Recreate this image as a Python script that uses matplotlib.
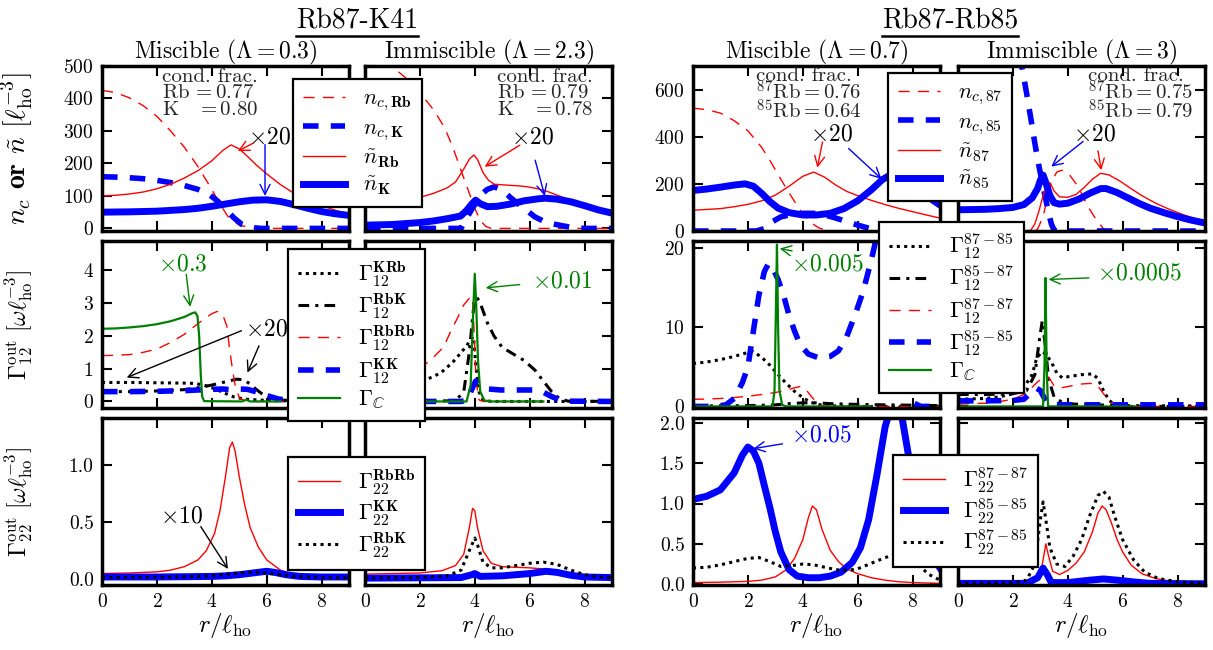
import matplotlib

matplotlib.use("Agg")
import matplotlib.pyplot as plt
from matplotlib.lines import Line2D

plt.rcParams.update({
    "font.family": "serif",
    "font.serif": ["cmr10"],
    "mathtext.fontset": "cm",
    "axes.formatter.use_mathtext": True,
    "axes.unicode_minus": False,
})

# ---------------- data: (r / l_ho, value) ----------------
# Rb87-K41, miscible: densities
mk_nc_rb = [(0, 425), (0.5, 418), (1, 402), (1.5, 378), (2, 345), (2.5, 300), (3, 250), (3.5, 190),
            (4, 120), (4.3, 75), (4.6, 35), (5, 10), (5.5, 1), (6, 0), (9, 0)]
mk_nc_k = [(0, 159), (0.5, 158), (1, 156), (1.5, 153), (2, 148), (2.5, 141), (3, 132), (3.5, 120),
           (3.9, 105), (4.2, 85), (4.5, 60), (4.8, 33), (5.1, 12), (5.4, 3), (5.8, 0), (9, 0)]
mk_nt_rb = [(0, 100), (0.5, 102), (1, 106), (1.5, 112), (2, 122), (2.5, 136), (3, 155), (3.5, 178),
            (4, 208), (4.4, 240), (4.7, 257), (5.0, 245), (5.3, 222), (5.6, 197), (6.0, 168),
            (6.5, 135), (7, 108), (7.5, 87), (8, 70), (8.5, 56), (9, 44)]
mk_nt_k = [(0, 50), (1, 51), (2, 53), (3, 58), (3.5, 62), (4, 68), (4.5, 75), (5, 82), (5.5, 87),
           (6, 88), (6.5, 83), (7, 73), (7.5, 62), (8, 52), (8.5, 45), (9, 40)]

# Rb87-K41, immiscible: densities
ik_nc_rb = [(0, 540), (0.5, 525), (1, 498), (1.5, 462), (2, 418), (2.5, 365), (2.9, 310), (3.2, 250),
            (3.5, 178), (3.75, 120), (4.0, 62), (4.2, 25), (4.4, 6), (4.6, 0), (9, 0)]
ik_nc_k = [(0, 0), (3.5, 0), (3.6, 17), (3.9, 60), (4.22, 103), (4.45, 120), (4.71, 128), (5.0, 118),
           (5.3, 95), (5.56, 77), (5.9, 55), (6.18, 36), (6.6, 18), (7.2, 8), (7.6, 2), (8, 0), (9, 0)]
ik_nt_rb = [(0, 92), (0.5, 93), (1, 94), (1.5, 96), (2.1, 98), (2.5, 108), (3, 125), (3.3, 143),
            (3.6, 183), (3.8, 213), (3.97, 226), (4.1, 212), (4.3, 172), (4.5, 148), (4.71, 136),
            (5.2, 133), (5.6, 131), (5.93, 128), (6.3, 122), (6.67, 113), (7.2, 96), (7.6, 82),
            (8, 70), (8.5, 60), (9, 51)]
ik_nt_k = [(0, 10), (1, 12), (2, 18), (2.5, 23), (3, 30), (3.48, 38), (3.7, 55), (3.9, 76), (4.03, 87),
           (4.2, 76), (4.46, 67), (4.8, 68), (5.3, 75), (5.8, 85), (6.3, 91), (6.55, 93), (7, 90),
           (7.5, 82), (8, 70), (8.5, 57), (9, 47)]

# Rb87-K41, miscible: Gamma_12
mk_g12_krb = [(0, 0.58), (1, 0.58), (2, 0.57), (3, 0.56), (3.4, 0.55), (3.7, 0.5), (4.0, 0.42),
              (4.4, 0.28), (4.8, 0.14), (5.2, 0.07), (6, 0.03), (7, 0.01), (9, 0)]
mk_g12_rbk = [(0, 0.3), (1, 0.3), (2, 0.32), (3, 0.36), (3.5, 0.42), (4, 0.5), (4.5, 0.6), (4.9, 0.68),
              (5.2, 0.66), (5.5, 0.45), (5.8, 0.25), (6.2, 0.1), (6.6, 0.04), (7, 0.02), (9, 0)]
mk_g12_rbrb = [(0, 1.4), (0.5, 1.41), (1, 1.43), (1.5, 1.5), (2, 1.6), (2.5, 1.8), (3, 2.05),
               (3.5, 2.38), (4, 2.68), (4.2, 2.75), (4.4, 2.65), (4.55, 2.3), (4.65, 1.6), (4.75, 1.0),
               (4.85, 0.5), (5.0, 0.12), (5.2, 0.02), (5.5, 0), (9, 0)]
mk_g12_kk = [(0, 0.3), (1, 0.3), (2, 0.31), (3, 0.33), (3.5, 0.35), (4, 0.37), (4.4, 0.38), (4.7, 0.36),
             (5.0, 0.38), (5.3, 0.37), (5.6, 0.3), (6, 0.18), (6.4, 0.08), (6.8, 0.03), (7.2, 0.01), (9, 0)]
mk_g12_c = [(0, 2.22), (0.5, 2.23), (1, 2.26), (1.5, 2.3), (2, 2.36), (2.5, 2.45), (3, 2.58), (3.3, 2.7),
            (3.4, 2.72), (3.48, 2.6), (3.54, 2.0), (3.6, 0.8), (3.65, 0.15), (3.72, 0.01), (5.1, 0.0),
            (5.25, 0.05), (5.4, 0.0), (6.5, 0)]

# Rb87-K41, immiscible: Gamma_12
ik_g12_krb = [(0, 0.2), (1, 0.35), (2, 0.6), (2.5, 0.76), (2.8, 0.9), (3.2, 1.2), (3.48, 1.47), (3.7, 1.7),
              (3.85, 1.88), (3.95, 1.98), (4.05, 1.0), (4.15, 0.3), (4.3, 0.05), (4.6, 0.0), (9, 0)]
ik_g12_rbk = [(0, 0), (3.3, 0.02), (3.6, 0.3), (3.8, 1.5), (3.95, 2.8), (4.08, 3.18), (4.2, 3.0), (4.46, 2.4),
              (4.7, 2.0), (5.0, 1.65), (5.4, 1.45), (5.8, 1.25), (6.2, 0.95), (6.5, 0.62), (6.8, 0.3),
              (7.1, 0.08), (7.4, 0.01), (9, 0)]
ik_g12_rbrb = [(0, 0.35), (1, 0.55), (1.5, 0.75), (2, 1.0), (2.5, 1.35), (2.87, 1.67), (3.1, 2.1), (3.4, 2.6),
               (3.6, 2.95), (3.85, 3.2), (3.92, 3.18), (3.98, 2.0), (4.05, 0.6), (4.15, 0.05), (4.3, 0), (6.5, 0)]
ik_g12_kk = [(0, 0), (3.5, 0), (3.73, 0.04), (3.88, 0.35), (4.03, 0.62), (4.2, 0.5), (4.5, 0.38), (4.95, 0.35),
             (5.5, 0.35), (6.18, 0.35), (6.5, 0.28), (6.8, 0.15), (7.2, 0.01), (9, 0)]
ik_g12_c = [(0, 0), (3.7, 0), (3.85, 0.5), (3.93, 2.5), (4.0, 3.9), (4.05, 3.0), (4.12, 1.2), (4.2, 0.3),
            (4.35, 0.03), (4.6, 0), (6.5, 0)]

# Rb87-K41: Gamma_22
mk_g22_rbrb = [(0, 0.05), (1, 0.055), (2, 0.065), (2.5, 0.08), (3, 0.11), (3.5, 0.17), (3.8, 0.25), (4.1, 0.4),
               (4.3, 0.6), (4.5, 0.9), (4.65, 1.15), (4.75, 1.2), (4.85, 1.12), (5.0, 0.9), (5.2, 0.65),
               (5.4, 0.45), (5.7, 0.28), (6.0, 0.17), (6.5, 0.08), (7, 0.04), (7.5, 0.02), (8, 0.01), (9, 0.005)]
mk_g22_kk = [(0, 0.02), (2, 0.02), (4, 0.025), (4.5, 0.03), (5, 0.04), (5.5, 0.055), (6, 0.07), (6.3, 0.06),
             (6.7, 0.04), (7.2, 0.025), (8, 0.02), (9, 0.02)]
mk_g22_rbk = [(0, 0.015), (2, 0.018), (3, 0.022), (4, 0.03), (4.5, 0.045), (5, 0.055), (5.5, 0.06), (6, 0.055),
              (6.5, 0.04), (7, 0.025), (8, 0.015), (9, 0.012)]
ik_g22_rbrb = [(0, 0.045), (1, 0.05), (2, 0.055), (2.8, 0.075), (3.3, 0.12), (3.6, 0.22), (3.8, 0.45), (3.92, 0.62),
               (4.0, 0.6), (4.1, 0.45), (4.3, 0.25), (4.6, 0.14), (5.0, 0.11), (5.5, 0.105), (6.0, 0.1),
               (6.5, 0.09), (7, 0.06), (7.5, 0.04), (8, 0.02), (9, 0.01)]
ik_g22_kk = [(0, 0.01), (3.5, 0.015), (3.9, 0.04), (4.0, 0.05), (4.2, 0.025), (5, 0.03), (6, 0.05), (6.6, 0.07),
             (7, 0.06), (7.5, 0.035), (8, 0.02), (9, 0.015)]
ik_g22_rbk = [(0, 0.01), (2, 0.015), (3, 0.03), (3.5, 0.08), (3.8, 0.25), (4.0, 0.36), (4.1, 0.3), (4.3, 0.15),
              (4.6, 0.1), (5.0, 0.1), (5.5, 0.12), (6, 0.14), (6.5, 0.15), (7, 0.13), (7.5, 0.08), (8, 0.04),
              (8.5, 0.02), (9, 0.015)]

# Rb87-Rb85, miscible: densities
mr_nc_87 = [(0, 521), (0.5, 515), (1, 500), (1.5, 468), (2, 425), (2.5, 355), (2.8, 300), (3.0, 260),
            (3.3, 200), (3.7, 125), (4.0, 72), (4.3, 35), (4.6, 12), (5, 2), (5.5, 0), (9, 0)]
mr_nc_85 = [(0, 0), (2.3, 0), (2.6, 10), (2.9, 40), (3.2, 60), (3.6, 70), (4.0, 75), (4.4, 75), (4.8, 68),
            (5.2, 55), (5.6, 40), (6.0, 25), (6.4, 12), (6.8, 4), (7.2, 0), (9, 0)]
mr_nt_87 = [(0, 88), (1, 95), (1.5, 103), (2, 113), (2.5, 128), (3, 152), (3.5, 190), (4, 232), (4.4, 250),
            (4.8, 228), (5.2, 195), (5.6, 168), (6, 150), (6.5, 130), (7, 112), (7.5, 96), (8, 82),
            (8.5, 68), (9, 55)]
mr_nt_85 = [(0, 172), (0.5, 178), (1, 186), (1.5, 195), (1.9, 200), (2.2, 190), (2.5, 160), (2.8, 125),
            (3.1, 97), (3.5, 78), (4, 68), (4.5, 68), (5, 75), (5.5, 95), (6, 128), (6.5, 175), (6.9, 218),
            (7.3, 245), (7.7, 240), (8.1, 200), (8.5, 150), (9, 110)]

# Rb87-Rb85, immiscible: densities
ir_nc_87 = [(0, 0), (2.8, 0), (2.9, 8), (3.1, 61), (3.4, 209), (3.6, 250), (3.8, 258), (4.07, 237), (4.38, 188),
            (4.56, 145), (4.74, 103), (5.04, 47), (5.3, 10), (5.5, 0), (9, 0)]
ir_nc_85 = [(2.28, 750), (2.33, 697), (2.5, 584), (2.65, 480), (2.8, 372), (2.95, 275), (3.1, 188), (3.28, 89),
            (3.4, 30), (3.5, 4), (3.6, 0), (9, 0)]
ir_nt_87 = [(0, 0), (2.5, 0), (2.65, 3), (2.8, 30), (2.95, 85), (3.1, 150), (3.25, 200), (3.35, 205), (3.5, 170),
            (3.7, 145), (4.0, 143), (4.3, 155), (4.6, 185), (4.9, 220), (5.2, 245), (5.5, 238), (5.9, 212),
            (6.3, 180), (6.7, 150), (7.2, 118), (7.7, 92), (8.3, 65), (9, 40)]
ir_nt_85 = [(0, 90), (1, 92), (1.5, 95), (2.0, 100), (2.4, 112), (2.7, 140), (2.9, 180), (3.0, 215),
            (3.1, 237), (3.2, 205), (3.35, 150), (3.5, 120), (3.7, 114), (4.0, 118), (4.4, 135), (4.8, 160),
            (5.2, 180), (5.4, 180), (5.8, 163), (6.2, 140), (6.6, 117), (7.0, 97), (7.5, 78), (8.0, 61),
            (8.5, 46), (9, 34)]

# Rb87-Rb85: Gamma_12
mr_g12_8785 = [(0, 5.4), (0.5, 5.6), (1, 5.9), (1.5, 6.3), (2, 6.8), (2.2, 6.9), (2.5, 6.2), (2.8, 5.2),
               (3.1, 4.0), (3.4, 2.9), (3.7, 1.9), (4.0, 1.1), (4.3, 0.5), (4.7, 0.15), (5.2, 0.05), (6, 0), (9, 0)]
mr_g12_8587 = [(0, 0.05), (2, 0.1), (3, 0.2), (3.5, 0.35), (4, 0.45), (4.5, 0.45), (5, 0.35), (5.5, 0.3),
               (6, 0.25), (7, 0.2), (8, 0.15), (9, 0.1)]
mr_g12_8787 = [(0, 0.9), (0.5, 0.92), (1, 1.0), (1.5, 1.12), (2, 1.28), (2.5, 1.5), (3, 1.75), (3.4, 2.05),
               (3.7, 2.35), (3.9, 2.5), (4.1, 2.2), (4.3, 1.3), (4.5, 0.5), (4.7, 0.1), (5, 0), (9, 0)]
mr_g12_8585 = [(0, 0), (0.8, 0), (1.2, 0.2), (1.5, 1.0), (1.8, 3.0), (2.0, 5.0), (2.2, 9.5), (2.4, 14),
               (2.6, 17), (2.75, 18), (2.9, 17.5), (3.1, 16), (3.3, 14), (3.5, 11.5), (3.7, 9.5), (3.9, 7.8),
               (4.2, 6.6), (4.6, 6.1), (5.0, 6.3), (5.3, 7.0), (5.6, 8.8), (5.9, 11.5), (6.2, 14.5), (6.5, 18.5),
               (6.7, 21.5), (7.0, 25), (7.3, 22), (7.6, 10), (7.8, 3), (8.0, 0.5), (8.3, 0), (9, 0)]
mr_g12_c = [(0, 0), (2.9, 0), (2.97, 2), (3.02, 12), (3.06, 20.4), (3.1, 10), (3.15, 2), (3.25, 0.2),
            (3.4, 0), (6.5, 0)]
ir_g12_8785 = [(0, 0.9), (1, 1.0), (1.5, 1.2), (2, 1.6), (2.4, 2.4), (2.7, 4.0), (2.86, 6.0), (3.05, 6.9),
               (3.2, 6.6), (3.4, 5.6), (3.6, 4.2), (3.8, 3.6), (4.1, 3.8), (4.5, 4.0), (4.9, 4.1), (5.1, 3.5),
               (5.3, 2.0), (5.5, 0.8), (5.7, 0.2), (6.0, 0), (9, 0)]
ir_g12_8587 = [(0, 1.5), (1, 1.5), (2, 1.6), (2.5, 2.0), (2.8, 4.0), (2.95, 8.0), (3.07, 10.8), (3.17, 8.0),
               (3.3, 3.5), (3.5, 1.2), (3.8, 0.5), (4.2, 0.3), (5, 0.2), (6, 0.1), (9, 0.05)]
ir_g12_8787 = [(0, 0.3), (1, 0.4), (1.5, 0.6), (2, 0.9), (2.4, 1.5), (2.7, 2.4), (2.9, 3.1), (3.1, 3.6),
               (3.3, 3.7), (3.5, 2.6), (3.7, 2.3), (4.0, 2.5), (4.4, 2.8), (4.8, 2.9), (5.05, 2.8), (5.3, 1.6),
               (5.55, 0.5), (5.8, 0.05), (6, 0), (9, 0)]
ir_g12_8585 = [(0, 0.7), (1, 0.7), (2, 0.75), (2.4, 0.9), (2.7, 1.9), (2.86, 2.3), (3.0, 2.0), (3.2, 0.7),
               (3.4, 0.25), (3.7, 0.2), (9, 0.2)]
ir_g12_c = [(0, 0), (3.1, 0), (3.15, 5), (3.19, 16.2), (3.23, 5), (3.28, 0), (6.5, 0)]

# Rb87-Rb85: Gamma_22
mr_g22_8787 = [(0, 0.02), (1, 0.025), (2, 0.035), (2.5, 0.05), (3, 0.09), (3.4, 0.18), (3.7, 0.32), (4.0, 0.55),
               (4.2, 0.82), (4.35, 0.97), (4.5, 0.92), (4.7, 0.68), (5.0, 0.42), (5.3, 0.28), (5.6, 0.19),
               (6.0, 0.13), (6.5, 0.08), (7, 0.05), (7.5, 0.03), (8, 0.02), (9, 0.01)]
mr_g22_8585 = [(0, 1.05), (0.5, 1.09), (1, 1.17), (1.5, 1.38), (1.8, 1.6), (2.0, 1.7), (2.2, 1.65), (2.4, 1.5),
               (2.6, 1.22), (2.8, 0.95), (3.0, 0.65), (3.2, 0.4), (3.5, 0.18), (3.8, 0.1), (4.2, 0.08),
               (4.6, 0.08), (5.0, 0.1), (5.4, 0.15), (5.8, 0.27), (6.1, 0.45), (6.4, 0.8), (6.7, 1.35),
               (7.0, 1.95), (7.3, 2.3), (7.6, 2.1), (7.9, 1.5), (8.2, 0.95), (8.5, 0.55), (8.8, 0.3), (9, 0.2)]
mr_g22_8785 = [(0, 0.2), (0.5, 0.21), (1, 0.24), (1.5, 0.28), (2, 0.32), (2.4, 0.33), (2.8, 0.28), (3.2, 0.22),
               (3.6, 0.23), (4.0, 0.25), (4.4, 0.24), (4.8, 0.21), (5.2, 0.18), (5.6, 0.17), (6.0, 0.19),
               (6.5, 0.26), (7.0, 0.33), (7.4, 0.37), (7.8, 0.34), (8.2, 0.24), (8.6, 0.12), (9, 0.05)]
ir_g22_8787 = [(0, 0.005), (1, 0.005), (2, 0.01), (2.5, 0.02), (2.8, 0.04), (3.0, 0.12), (3.1, 0.3), (3.2, 0.5),
               (3.3, 0.35), (3.45, 0.16), (3.7, 0.12), (4.0, 0.17), (4.3, 0.26), (4.6, 0.4), (4.9, 0.65),
               (5.1, 0.88), (5.25, 0.97), (5.4, 0.92), (5.6, 0.75), (5.8, 0.55), (6.0, 0.4), (6.3, 0.24),
               (6.7, 0.13), (7.2, 0.07), (7.7, 0.04), (8.5, 0.02), (9, 0.01)]
ir_g22_8585 = [(0, 0.01), (2.5, 0.01), (2.9, 0.08), (3.1, 0.2), (3.25, 0.12), (3.4, 0.02), (4, 0.02), (4.8, 0.05),
               (5.3, 0.065), (5.8, 0.05), (6.5, 0.025), (7, 0.01), (9, 0.005)]
ir_g22_8785 = [(0, 0.01), (2, 0.02), (2.5, 0.05), (2.8, 0.25), (3.0, 0.8), (3.1, 1.02), (3.2, 0.8), (3.35, 0.45),
               (3.6, 0.25), (3.9, 0.22), (4.2, 0.35), (4.5, 0.55), (4.8, 0.85), (5.1, 1.1), (5.3, 1.15),
               (5.5, 1.08), (5.7, 0.85), (6.0, 0.55), (6.4, 0.3), (6.8, 0.15), (7.3, 0.07), (8, 0.03), (9, 0.01)]

# condensate fractions printed in the panels
frac_mk = [(r"\mathrm{Rb}\,", "0.77"), (r"\mathrm{K}\ \ \ ", "0.80")]
frac_ik = [(r"\mathrm{Rb}\,", "0.79"), (r"\mathrm{K}\ \ \ ", "0.78")]
frac_mr = [(r"^{87}\mathrm{Rb}", "0.76"), (r"^{85}\mathrm{Rb}", "0.64")]
frac_ir = [(r"^{87}\mathrm{Rb}", "0.75"), (r"^{85}\mathrm{Rb}", "0.79")]

# ---------------- styles ----------------
GREEN = (0, 0.5, 0)
STYLES = {
    "red_dash": dict(color="r", lw=1.0, ls=(0, (8, 6))),
    "blue_dash": dict(color="b", lw=4.0, ls=(0, (2.8, 2.2))),
    "red": dict(color="r", lw=1.0),
    "blue": dict(color="b", lw=5.0),
    "dot": dict(color="k", lw=2.2, ls=(0, (1, 1.4))),
    "dashdot": dict(color="k", lw=2.2, ls=(0, (3.5, 2, 1, 2))),
    "green": dict(color=GREEN, lw=1.6),
}

W, H = 1213, 650
COL_LEFT = [102, 365, 693, 958]
COL_W = 247
ROW_TOP = [66, 241, 418]
ROW_H = [165, 167, 167]

fig = plt.figure(figsize=(W / 100, H / 100), dpi=100)


def make_axes(r, c):
    rect = [COL_LEFT[c] / W, 1 - (ROW_TOP[r] + ROW_H[r]) / H, COL_W / W, ROW_H[r] / H]
    ax = fig.add_axes(rect)
    for sp in ax.spines.values():
        sp.set_linewidth(2.5)
    ax.tick_params(direction="in", top=True, right=True, length=7, width=1.5, labelsize=14, pad=6)
    ax.set_xlim(0, 9)
    ax.set_xticks([0, 2, 4, 6, 8])
    if r < 2:
        ax.set_xticklabels([])
    else:
        ax.set_xlabel(r"$r/\ell_{\rm ho}$", fontsize=18, labelpad=0)
    return ax


def curve(ax, pts, style, label=None):
    xs = [p[0] for p in pts]
    ys = [p[1] for p in pts]
    return ax.plot(xs, ys, label=label, **STYLES[style])[0]


def arrow(ax, tail, tip, color):
    ax.annotate("", xy=tip, xytext=tail, annotation_clip=False,
                arrowprops=dict(arrowstyle="->", color=color, lw=1.0, mutation_scale=18,
                                shrinkA=0, shrinkB=0))


def cond_frac(ax, x, y, rows, spacing):
    lines = ["cond. frac."] + [r"$%s=\mathbf{%s}$" % (name, val) for name, val in rows]
    ax.text(x, y, "\n".join(lines), fontsize=15, va="top", ha="left", color="0.15",
            linespacing=spacing)


def legend(handles, labels, corner, spacing):
    leg = fig.legend(handles, labels, loc="upper left", bbox_to_anchor=(corner[0] / W, 1 - corner[1] / H),
                     fontsize=16, frameon=True, fancybox=False, framealpha=1, edgecolor="k",
                     handlelength=1.9, handletextpad=0.8, labelspacing=spacing, borderpad=0.45,
                     borderaxespad=0)
    leg.get_frame().set_linewidth(1.6)


axs = [[make_axes(r, c) for c in range(4)] for r in range(3)]

ylims_left = [(-8, 500), (-0.2, 4.9), (-0.05, 1.41)]
ylims_right = [(0, 700), (-0.2, 20.85), (-0.01, 2.06)]
yticks_left = [[0, 100, 200, 300, 400, 500], [0, 1, 2, 3, 4], [0.0, 0.5, 1.0]]
yticks_right = [[0, 200, 400, 600], [0, 10, 20], [0.0, 0.5, 1.0, 1.5, 2.0]]
for r in range(3):
    for c in range(4):
        left = c < 2
        axs[r][c].set_ylim(*(ylims_left[r] if left else ylims_right[r]))
        ticks = yticks_left[r] if left else yticks_right[r]
        axs[r][c].set_yticks(ticks)
        if c in (1, 3):
            axs[r][c].set_yticklabels([])
        elif r == 2:
            axs[r][c].set_yticklabels(["%.1f" % t for t in ticks])

# ---------------- row 1: densities ----------------
ax = axs[0][0]
h1 = curve(ax, mk_nc_rb, "red_dash")
h2 = curve(ax, mk_nc_k, "blue_dash")
h3 = curve(ax, mk_nt_rb, "red")
h4 = curve(ax, mk_nt_k, "blue")
cond_frac(ax, 2.2, 495, frac_mk, 0.92)
ax.text(6.1, 280, r"$\times20$", fontsize=17, ha="center", va="center")
arrow(ax, (5.5, 262), (4.95, 238), "r")
arrow(ax, (5.94, 258), (5.94, 100), "b")

ax = axs[0][1]
curve(ax, ik_nc_rb, "red_dash")
curve(ax, ik_nc_k, "blue_dash")
curve(ax, ik_nt_rb, "red")
curve(ax, ik_nt_k, "blue")
cond_frac(ax, 4.8, 495, frac_ik, 0.92)
ax.text(6.1, 280, r"$\times20$", fontsize=17, ha="center", va="center")
arrow(ax, (5.64, 256), (4.36, 190), "r")
arrow(ax, (6.2, 210), (6.55, 100), "b")
legend([h1, h2, h3, h4],
       [r"$n_{c,\mathbf{Rb}}$", r"$n_{c,\mathbf{K}}$", r"$\tilde{n}_{\mathbf{Rb}}$", r"$\tilde{n}_{\mathbf{K}}$"],
       (293, 79), 0.22)

ax = axs[0][2]
g1 = curve(ax, mr_nc_87, "red_dash")
g2 = curve(ax, mr_nc_85, "blue_dash")
g3 = curve(ax, mr_nt_87, "red")
g4 = curve(ax, mr_nt_85, "blue")
cond_frac(ax, 2.3, 695, frac_mr, 0.74)
ax.text(5.03, 410, r"$\times20$", fontsize=17, ha="center", va="center")
arrow(ax, (4.72, 378), (4.53, 269), "r")
arrow(ax, (5.67, 350), (6.87, 221), "b")

ax = axs[0][3]
curve(ax, ir_nc_87, "red_dash")
curve(ax, ir_nc_85, "blue_dash")
curve(ax, ir_nt_87, "red")
curve(ax, ir_nt_85, "blue")
cond_frac(ax, 4.75, 695, frac_ir, 0.74)
ax.text(4.98, 410, r"$\times20$", fontsize=17, ha="center", va="center")
arrow(ax, (4.56, 380), (3.4, 273), "b")
arrow(ax, (5.1, 340), (5.22, 258), "r")
legend([g1, g2, g3, g4],
       [r"$n_{c,\mathbf{87}}$", r"$n_{c,\mathbf{85}}$", r"$\tilde{n}_{87}$", r"$\tilde{n}_{85}$"],
       (888, 73), 0.22)

# ---------------- row 2: Gamma_12 ----------------
ax = axs[1][0]
k1 = curve(ax, mk_g12_krb, "dot")
k2 = curve(ax, mk_g12_rbk, "dashdot")
k3 = curve(ax, mk_g12_rbrb, "red_dash")
k4 = curve(ax, mk_g12_kk, "blue_dash")
k5 = curve(ax, mk_g12_c, "green")
ax.text(2.95, 4.18, r"$\times0.3$", fontsize=17, ha="center", va="center", color=GREEN)
arrow(ax, (3.07, 3.88), (3.21, 2.89), GREEN)
ax.text(6.0, 2.2, r"$\times20$", fontsize=17, ha="center", va="center")
arrow(ax, (5.08, 2.16), (0.9, 0.73), "k")
arrow(ax, (5.72, 1.7), (5.3, 0.88), "k")

ax = axs[1][1]
curve(ax, ik_g12_krb, "dot")
curve(ax, ik_g12_rbk, "dashdot")
curve(ax, ik_g12_rbrb, "red_dash")
curve(ax, ik_g12_kk, "blue_dash")
curve(ax, ik_g12_c, "green")
ax.text(7.2, 3.66, r"$\times0.01$", fontsize=17, ha="center", va="center", color=GREEN)
arrow(ax, (5.64, 3.57), (4.4, 3.47), GREEN)
legend([k1, k2, k3, k4, k5],
       [r"$\Gamma_{12}^{\mathbf{KRb}}$", r"$\Gamma_{12}^{\mathbf{RbK}}$", r"$\Gamma_{12}^{\mathbf{RbRb}}$",
        r"$\Gamma_{12}^{\mathbf{KK}}$", r"$\Gamma_{\mathbb{C}}$"],
       (288, 249), 0.12)

ax = axs[1][2]
m1 = curve(ax, mr_g12_8785, "dot")
m2 = curve(ax, mr_g12_8587, "dashdot")
m3 = curve(ax, mr_g12_8787, "red_dash")
m4 = curve(ax, mr_g12_8585, "blue_dash")
m5 = curve(ax, mr_g12_c, "green")
ax.text(4.89, 17.9, r"$\times0.005$", fontsize=17, ha="center", va="center", color=GREEN)
arrow(ax, (3.61, 19.6), (3.16, 19.9), GREEN)

ax = axs[1][3]
curve(ax, ir_g12_8785, "dot")
curve(ax, ir_g12_8587, "dashdot")
curve(ax, ir_g12_8787, "red_dash")
curve(ax, ir_g12_8585, "blue_dash")
curve(ax, ir_g12_c, "green")
ax.text(6.61, 16.8, r"$\times0.0005$", fontsize=17, ha="center", va="center", color=GREEN)
arrow(ax, (4.77, 16.2), (3.3, 16.0), GREEN)
legend([m1, m2, m3, m4, m5],
       [r"$\Gamma_{12}^{87-85}$", r"$\Gamma_{12}^{85-87}$", r"$\Gamma_{12}^{87-87}$",
        r"$\Gamma_{12}^{85-85}$", r"$\Gamma_{\mathbb{C}}$"],
       (879, 222), 0.12)

# ---------------- row 3: Gamma_22 ----------------
ax = axs[2][0]
p1 = curve(ax, mk_g22_rbrb, "red")
p2 = curve(ax, mk_g22_kk, "blue")
p3 = curve(ax, mk_g22_rbk, "dot")
ax.text(2.88, 0.55, r"$\times10$", fontsize=17, ha="center", va="center")
arrow(ax, (3.6, 0.46), (4.59, 0.09), "k")

ax = axs[2][1]
curve(ax, ik_g22_rbrb, "red")
curve(ax, ik_g22_kk, "blue")
curve(ax, ik_g22_rbk, "dot")
legend([p1, p2, p3],
       [r"$\Gamma_{22}^{\mathbf{RbRb}}$", r"$\Gamma_{22}^{\mathbf{KK}}$", r"$\Gamma_{22}^{\mathbf{RbK}}$"],
       (288, 457), 0.08)

ax = axs[2][2]
q1 = curve(ax, mr_g22_8787, "red")
q2 = curve(ax, mr_g22_8585, "blue")
q3 = curve(ax, mr_g22_8785, "dot")
ax.text(4.67, 1.84, r"$\times0.05$", fontsize=17, ha="center", va="center", color="b")
arrow(ax, (3.26, 1.74), (2.2, 1.68), "b")

ax = axs[2][3]
curve(ax, ir_g22_8787, "red")
curve(ax, ir_g22_8585, "blue")
curve(ax, ir_g22_8785, "dot")
legend([q1, q2, q3],
       [r"$\Gamma_{22}^{87-87}$", r"$\Gamma_{22}^{85-85}$", r"$\Gamma_{22}^{87-85}$"],
       (893, 455), 0.08)

# ---------------- labels and titles ----------------
axs[0][0].set_ylabel(r"$n_c$ $\mathbf{or}$ $\tilde{n}$ $[\ell_{\rm ho}^{-3}]$", fontsize=20)
axs[1][0].set_ylabel(r"$\Gamma_{12}^{\rm out}\ [\omega\ell_{\rm ho}^{-3}]$", fontsize=17)
axs[2][0].set_ylabel(r"$\Gamma_{22}^{\rm out}\ [\omega\ell_{\rm ho}^{-3}]$", fontsize=17)
for r in range(3):
    axs[r][0].yaxis.set_label_coords(-0.27, 0.5)

col_titles = [r"Miscible ($\Lambda=0.3$)", r"Immiscible ($\Lambda=2.3$)",
              r"Miscible ($\Lambda=0.7$)", r"Immiscible ($\Lambda=3$)"]
for c, t in enumerate(col_titles):
    fig.text((COL_LEFT[c] + COL_W / 2) / W, 1 - 58 / H, t, fontsize=17, ha="center", va="baseline")

group_titles = []
for cx, t in [(357, "Rb87-K41"), (950, "Rb87-Rb85")]:
    group_titles.append(fig.text(cx / W, 1 - 27 / H, t, fontsize=20, ha="center", va="baseline"))

fig.canvas.draw()
inv = fig.transFigure.inverted()
for t in group_titles:
    bb = t.get_window_extent()
    (x0, y0), (x1, _) = inv.transform([(bb.x0, bb.y0 - 3), (bb.x1, bb.y0 - 3)])
    fig.add_artist(Line2D([x0, x1], [y0, y0], transform=fig.transFigure, color="k", lw=1.8))

fig.savefig("out.png", dpi=100)
